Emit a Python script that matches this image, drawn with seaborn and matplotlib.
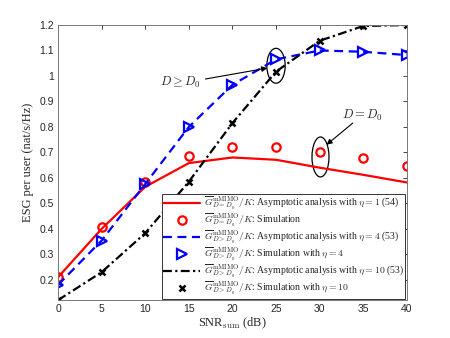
import numpy as np
import pandas as pd
import seaborn as sns
import matplotlib
matplotlib.use("Agg")
import matplotlib.pyplot as plt
from matplotlib.patches import Ellipse

# SNR axis (dB)
snr = [0, 5, 10, 15, 20, 25, 30, 35, 40]

# eta = 1, D = D0
asym_eta1 = [0.21, 0.40, 0.565, 0.658, 0.680, 0.671, 0.640, 0.612, 0.582]
sim_eta1 = [0.21, 0.408, 0.583, 0.686, 0.723, 0.723, 0.703, 0.677, 0.648]
# eta = 4, D > D0
asym_eta4 = [0.18, 0.354, 0.576, 0.80, 0.965, 1.065, 1.10, 1.095, 1.082]
sim_eta4 = [0.18, 0.354, 0.576, 0.80, 0.965, 1.065, 1.10, 1.095, 1.082]
# eta = 10, D > D0
asym_eta10 = [0.12, 0.230, 0.383, 0.585, 0.815, 1.017, 1.138, 1.196, 1.20]
sim_eta10 = [0.12, 0.230, 0.383, 0.585, 0.815, 1.017, 1.138, 1.196, 1.20]

labels = [
    r"$\overline{G}^{\rm mMIMO}_{D=D_0}/K$: Asymptotic analysis with $\eta=1$ (54)",
    r"$\overline{G}^{\rm mMIMO}_{D=D_0}/K$: Simulation",
    r"$\overline{G}^{\rm mMIMO}_{D>D_0}/K$: Asymptotic analysis with $\eta=4$ (53)",
    r"$\overline{G}^{\rm mMIMO}_{D>D_0}/K$: Simulation with $\eta=4$",
    r"$\overline{G}^{\rm mMIMO}_{D>D_0}/K$: Asymptotic analysis with $\eta=10$ (53)",
    r"$\overline{G}^{\rm mMIMO}_{D>D_0}/K$: Simulation with $\eta=10$",
]

sns.set_theme(style="white")
plt.rcParams["font.family"] = ["Liberation Sans", "DejaVu Sans"]
plt.rcParams["mathtext.fontset"] = "cm"
plt.rcParams["xtick.direction"] = "in"
plt.rcParams["ytick.direction"] = "in"

fig = plt.figure(figsize=(4.5, 3.38), dpi=100)
ax = fig.add_axes([0.129, 0.112, 0.775, 0.814])

sns.lineplot(x=snr, y=asym_eta1, ax=ax, color="red", lw=1.6, label=labels[0])
sns.lineplot(x=snr, y=sim_eta1, ax=ax, color="red", linestyle="", marker="o",
             ms=6, mfc="none", mec="red", mew=1.6, label=labels[1])
sns.lineplot(x=snr, y=asym_eta4, ax=ax, color="blue", lw=1.6, label=labels[2])
ax.lines[-1].set_dashes([4, 2.5])
sns.lineplot(x=snr, y=sim_eta4, ax=ax, color="blue", linestyle="", marker=">",
             ms=7, mfc="none", mec="blue", mew=1.6, label=labels[3])
sns.lineplot(x=snr, y=asym_eta10, ax=ax, color="black", lw=1.6, label=labels[4])
ax.lines[-1].set_dashes([4, 1.5, 1, 1.5])
sns.lineplot(x=snr, y=sim_eta10, ax=ax, color="black", linestyle="", marker="x",
             ms=4, mec="black", mew=1.8, label=labels[5])

ax.set_xlim(0, 40)
ax.set_ylim(0.12, 1.2)
ax.set_xticks(np.arange(0, 41, 5))
ax.set_yticks(np.round(np.arange(0.2, 1.21, 0.1), 1))
ax.set_yticklabels(["0.2", "0.3", "0.4", "0.5", "0.6", "0.7", "0.8", "0.9",
                    "1", "1.1", "1.2"])
ax.tick_params(axis="both", which="both", labelsize=7.5, colors="#262626",
               length=3, width=0.6, top=True, right=True, pad=3)
for side in ax.spines.values():
    side.set_color("#777777")
    side.set_linewidth(0.7)

ax.set_xlabel(r"SNR$_{\rm sum}$ (dB)", family="Liberation Serif", fontsize=9,
              labelpad=1)
ax.set_ylabel("ESG per user (nat/s/Hz)", family="Liberation Serif", fontsize=9,
              labelpad=4)

# annotations
arrow = dict(arrowstyle="-|>", color="black", lw=0.8, shrinkA=0, shrinkB=0,
             mutation_scale=8)
ax.add_patch(Ellipse((25.0, 1.04), 2.1, 0.137, fill=False, ec="black", lw=0.9))
ax.text(14.0, 0.976, r"$D \geq D_0$", fontsize=9, ha="center", va="center")
ax.annotate("", xy=(24.0, 1.031), xytext=(16.9, 0.988), arrowprops=arrow)
ax.add_patch(Ellipse((30.1, 0.682), 1.95, 0.157, fill=False, ec="black", lw=0.9))
ax.text(34.9, 0.845, r"$D = D_0$", fontsize=9, ha="center", va="center")
ax.annotate("", xy=(30.8, 0.73), xytext=(33.8, 0.815), arrowprops=arrow)

leg = ax.legend(loc="lower right", bbox_to_anchor=(1.0, 0.0), borderaxespad=0.15,
                prop={"family": "Liberation Serif", "size": 7}, frameon=True,
                fancybox=False, framealpha=1, edgecolor="#333333",
                handlelength=3.8, handletextpad=0.35, labelspacing=0.0,
                borderpad=0.15)
leg.get_frame().set_linewidth(0.7)

fig.savefig("out.png", dpi=100)
